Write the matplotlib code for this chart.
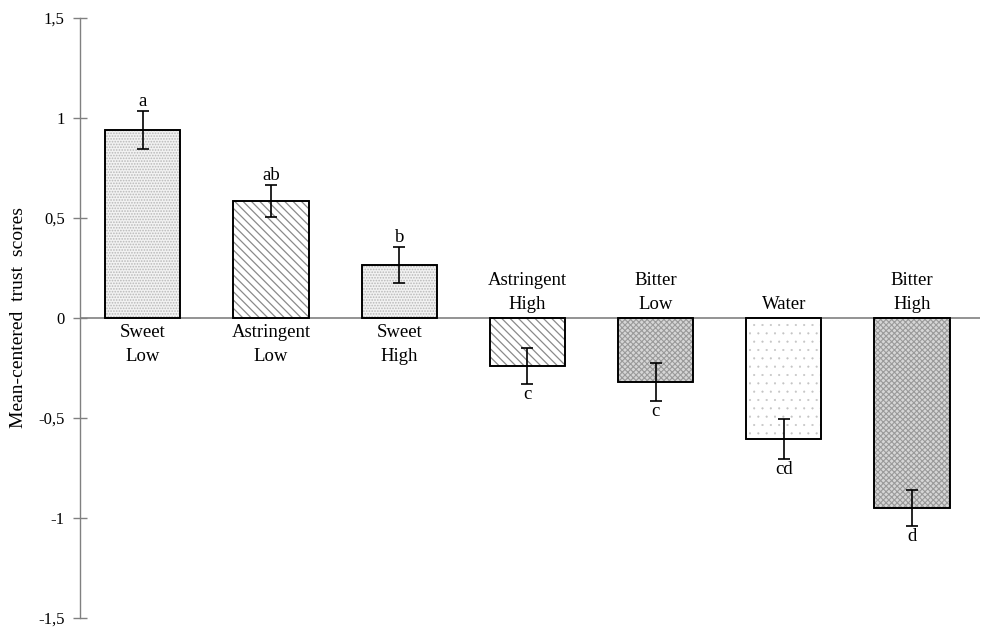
import matplotlib
matplotlib.use("Agg")
import matplotlib.pyplot as plt
import numpy as np

plt.rcParams['font.family'] = ['Liberation Serif', 'DejaVu Serif']

categories = ["Sweet\nLow", "Astringent\nLow", "Sweet\nHigh", "Astringent\nHigh",
              "Bitter\nLow", "Water", "Bitter\nHigh"]
values = [0.94, 0.585, 0.265, -0.24, -0.32, -0.605, -0.95]
errors = [0.095, 0.08, 0.09, 0.09, 0.093, 0.1, 0.09]
letters = ["a", "ab", "b", "c", "c", "cd", "d"]
yticks = [-1.5, -1, -0.5, 0, 0.5, 1, 1.5]
yticklabels = ["-1,5", "-1", "-0,5", "0", "0,5", "1", "1,5"]

styles = [
    dict(facecolor="#f2f2f2", hatch="......", hcolor="#b8b8b8", hlw=0.8),
    dict(facecolor="white", hatch="\\\\\\\\", hcolor="#8a8a8a", hlw=0.9),
    dict(facecolor="#f2f2f2", hatch="......", hcolor="#b8b8b8", hlw=0.8),
    dict(facecolor="white", hatch="\\\\\\\\", hcolor="#8a8a8a", hlw=0.9),
    dict(facecolor="#d6d6d6", hatch="xxxxxx", hcolor="#9a9a9a", hlw=0.8),
    dict(facecolor="white", hatch="..", hcolor="#c4c4c4", hlw=0.3),
    dict(facecolor="#d6d6d6", hatch="xxxxxx", hcolor="#9a9a9a", hlw=0.8),
]

fig = plt.figure(figsize=(9.81, 6.28), dpi=100)
ax = fig.add_axes([80/981, 10/628, 900/981, 600/628])

x = np.arange(len(categories))
for i in range(len(categories)):
    s = styles[i]
    with plt.rc_context({"hatch.linewidth": s["hlw"], "hatch.color": s["hcolor"]}):
        b = ax.bar(x[i], values[i], width=0.586, facecolor=s["facecolor"],
                   edgecolor="black", linewidth=1.2, hatch=s["hatch"], zorder=2)
    b[0]._hatch_color = matplotlib.colors.to_rgba(s["hcolor"])
    ax.bar(x[i], values[i], width=0.586, facecolor="none", edgecolor="black",
           linewidth=1.2, zorder=3)

ax.errorbar(x, values, yerr=errors, fmt="none", ecolor="black", elinewidth=1.2,
            capsize=4, capthick=1.2, zorder=4)

fs = 13.5
for i in range(len(categories)):
    v, e = values[i], errors[i]
    if v > 0:
        ax.text(x[i], v + e + 0.005, letters[i], ha="center", va="bottom", fontsize=fs)
        ax.text(x[i], -0.03, categories[i], ha="center", va="top", fontsize=fs,
                linespacing=1.55)
    else:
        ax.text(x[i], v - e - 0.012, letters[i], ha="center", va="top", fontsize=fs)
        ax.text(x[i], 0.025, categories[i], ha="center", va="bottom", fontsize=fs,
                linespacing=1.55)

ax.axhline(0, color="#808080", linewidth=1.2, zorder=1)
ax.set_xlim(-0.49, 6.53)
ax.set_ylim(-1.5, 1.5)
ax.set_yticks(yticks)
ax.set_yticklabels(yticklabels, fontsize=12)
ax.set_xticks([])
for sp in ["top", "right", "bottom"]:
    ax.spines[sp].set_visible(False)
ax.spines["left"].set_color("#808080")
ax.spines["left"].set_linewidth(1.0)
ax.tick_params(axis="y", direction="inout", length=10, color="#808080", width=1.0, pad=6)
ax.set_ylabel("Mean-centered  trust  scores", fontsize=14, labelpad=8)

fig.savefig("out.png", dpi=100)
